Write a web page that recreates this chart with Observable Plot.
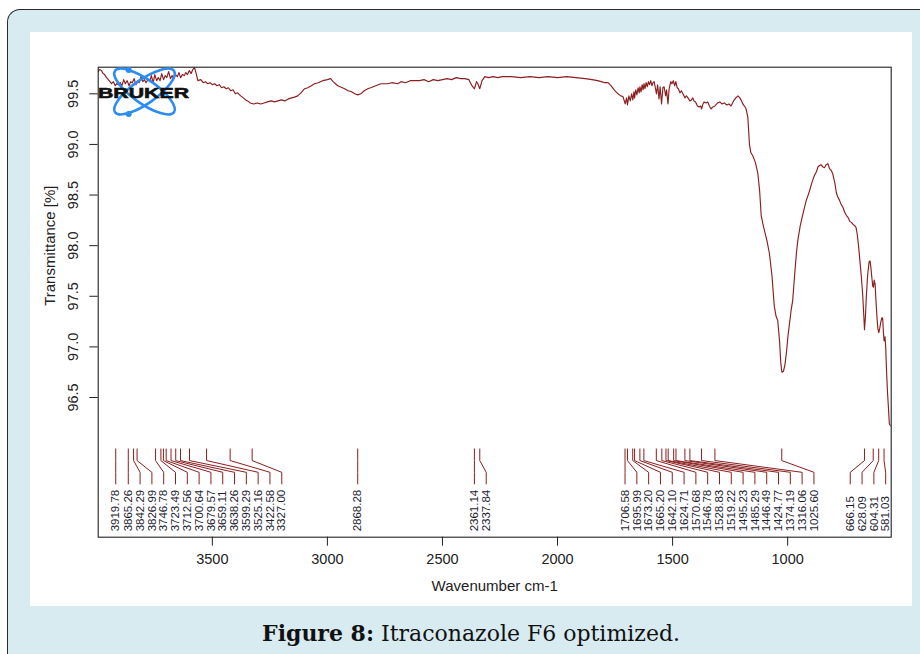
<!DOCTYPE html>
<html><head><meta charset="utf-8">
<script src="https://cdn.jsdelivr.net/npm/d3@7"></script>
<script src="https://cdn.jsdelivr.net/npm/@observablehq/plot@0.6"></script>
<style>
html,body{margin:0;padding:0;background:#fff;width:920px;height:654px;overflow:hidden;}
#panel{position:absolute;left:7px;top:9px;width:960px;height:700px;background:#d7ebf1;border-left:1.6px solid #2a2a2a;border-top:1.6px solid #2a2a2a;border-top-left-radius:13px;box-sizing:border-box;}
#chart{position:absolute;left:30px;top:32px;width:882px;height:574px;background:#fff;}
#caption{position:absolute;left:30px;width:882px;top:618px;text-align:center;font-family:"DejaVu Serif",serif;font-size:22px;color:#111;line-height:30px;}
</style></head>
<body>
<div id="panel"></div>
<div id="chart"></div>
<div id="caption"><b>Figure 8:</b> Itraconazole F6 optimized.</div>
<script>
// ---- data ----
const spectrum = [
[3996,99.72],[3990,99.74],[3982,99.73],[3975,99.70],[3968,99.69],[3960,99.66],[3952,99.64],[3945,99.62],
[3938,99.60],[3930,99.62],[3922,99.58],[3915,99.60],[3908,99.59],[3900,99.61],[3893,99.58],[3885,99.64],
[3878,99.60],[3870,99.63],[3862,99.58],[3855,99.62],[3848,99.61],[3840,99.65],[3832,99.59],[3825,99.62],
[3818,99.61],[3810,99.67],[3802,99.62],[3795,99.64],[3788,99.61],[3780,99.64],[3772,99.62],[3765,99.68],
[3757,99.61],[3750,99.69],[3742,99.63],[3735,99.66],[3727,99.63],[3720,99.70],[3712,99.64],[3705,99.68],
[3698,99.66],[3690,99.72],[3682,99.65],[3675,99.68],[3668,99.65],[3660,99.69],[3652,99.67],[3645,99.71],
[3638,99.66],[3630,99.69],[3622,99.68],[3615,99.71],[3608,99.69],[3600,99.73],[3592,99.70],[3585,99.74],
[3578,99.76],[3570,99.70],[3563,99.63],[3550,99.64],[3540,99.61],[3530,99.62],[3520,99.60],[3510,99.61],
[3500,99.59],[3490,99.60],[3480,99.58],[3470,99.59],[3460,99.56],[3450,99.57],[3440,99.55],[3430,99.56],
[3420,99.53],[3410,99.54],[3400,99.50],[3390,99.51],[3377,99.48],[3365,99.46],[3355,99.44],[3347,99.43],
[3335,99.41],[3320,99.40],[3305,99.41],[3290,99.40],[3275,99.41],[3260,99.42],[3245,99.43],[3230,99.42],
[3215,99.43],[3200,99.44],[3185,99.43],[3170,99.45],[3155,99.46],[3140,99.47],[3129,99.48],[3115,99.51],
[3100,99.55],[3085,99.56],[3070,99.58],[3056,99.60],[3040,99.61],[3020,99.63],[3000,99.64],[2986,99.65],
[2975,99.62],[2965,99.60],[2955,99.58],[2945,99.57],[2935,99.56],[2925,99.55],[2910,99.53],[2895,99.52],
[2881,99.50],[2868,99.49],[2855,99.50],[2840,99.53],[2825,99.55],[2812,99.56],[2790,99.58],[2768,99.60],
[2740,99.60],[2720,99.61],[2695,99.60],[2680,99.62],[2660,99.61],[2640,99.63],[2620,99.63],[2600,99.63],
[2580,99.64],[2560,99.62],[2540,99.64],[2520,99.63],[2500,99.64],[2480,99.65],[2460,99.64],[2440,99.66],
[2420,99.65],[2403,99.65],[2385,99.64],[2372,99.58],[2361,99.55],[2352,99.62],[2346,99.60],[2338,99.55],
[2328,99.63],[2316,99.67],[2300,99.66],[2280,99.67],[2260,99.66],[2240,99.67],[2200,99.67],[2160,99.66],
[2120,99.67],[2080,99.66],[2040,99.67],[2000,99.66],[1960,99.67],[1920,99.66],[1880,99.65],[1850,99.64],
[1826,99.63],[1810,99.62],[1795,99.61],[1780,99.61],[1768,99.58],[1750,99.53],[1737,99.50],[1725,99.48],
[1715,99.47],[1706,99.40],[1700,99.46],[1696,99.39],[1690,99.48],[1684,99.43],[1678,99.50],[1673,99.44],
[1668,99.52],[1665,99.46],[1660,99.54],[1655,99.49],[1650,99.56],[1645,99.51],[1642,99.57],[1637,99.52],
[1632,99.59],[1628,99.54],[1624,99.60],[1620,99.55],[1615,99.61],[1610,99.57],[1605,99.62],[1600,99.59],
[1595,99.63],[1590,99.58],[1585,99.61],[1580,99.62],[1575,99.56],[1570,99.50],[1565,99.59],[1559,99.45],
[1554,99.57],[1548,99.40],[1542,99.56],[1537,99.57],[1530,99.48],[1526,99.54],[1520,99.40],[1515,99.55],
[1508,99.62],[1503,99.60],[1497,99.63],[1491,99.58],[1486,99.62],[1480,99.56],[1475,99.55],[1468,99.51],
[1462,99.53],[1455,99.50],[1446,99.46],[1440,99.48],[1433,99.46],[1425,99.43],[1418,99.44],[1412,99.46],
[1407,99.43],[1400,99.42],[1392,99.38],[1385,99.37],[1378,99.38],[1374,99.35],[1368,99.40],[1363,99.42],
[1355,99.41],[1347,99.42],[1340,99.38],[1333,99.35],[1325,99.37],[1316,99.38],[1304,99.41],[1295,99.42],
[1285,99.40],[1275,99.41],[1265,99.39],[1255,99.40],[1246,99.38],[1235,99.43],[1225,99.46],[1216,99.48],
[1208,99.46],[1200,99.43],[1195,99.40],[1182,99.36],[1173,99.27],[1166,99.00],[1160,98.92],[1152,98.89],
[1140,98.82],[1130,98.72],[1122,98.55],[1115,98.30],[1108,98.22],[1101,98.15],[1090,98.05],[1079,97.92],
[1068,97.70],[1058,97.40],[1050,97.30],[1043,97.26],[1035,97.05],[1030,96.85],[1025,96.75],[1018,96.76],
[1012,96.82],[1005,96.95],[998,97.12],[992,97.23],[985,97.36],[978,97.46],[970,97.70],[962,97.92],
[956,98.05],[945,98.20],[934,98.31],[920,98.44],[905,98.54],[895,98.62],[884,98.69],[875,98.73],
[868,98.78],[862,98.79],[855,98.80],[848,98.78],[840,98.77],[833,98.80],[825,98.81],[818,98.76],
[810,98.74],[804,98.71],[795,98.62],[788,98.52],[782,98.48],[775,98.45],[768,98.41],[760,98.38],
[752,98.33],[745,98.30],[738,98.28],[730,98.24],[723,98.23],[716,98.21],[710,98.20],[703,98.18],
[698,98.12],[692,98.00],[686,97.85],[680,97.70],[674,97.52],[670,97.35],[666,97.17],[662,97.30],
[658,97.50],[652,97.72],[646,97.84],[642,97.85],[638,97.78],[634,97.68],[630,97.60],[627,97.59],
[624,97.66],[620,97.62],[616,97.45],[612,97.30],[608,97.18],[604,97.14],[600,97.18],[595,97.25],
[590,97.29],[587,97.28],[584,97.15],[581,97.06],[577,97.10],[574,97.00],[570,96.75],[566,96.55],
[562,96.40],[558,96.24],[552,96.22]
];
const peaks = [3919.78,3865.26,3842.29,3826.99,3746.78,3723.49,3712.56,3700.64,3679.57,3659.11,3638.26,
  3599.29,3525.16,3422.58,3327.00,2868.28,2361.14,2337.84,1706.58,1695.99,1673.20,1665.20,1642.10,1624.71,
  1570.68,1546.78,1528.83,1519.22,1495.23,1485.29,1446.49,1424.77,1374.19,1316.06,1025.60,666.15,628.09,
  604.31,581.03];
const xTicks = [3500,3000,2500,2000,1500,1000];
const yTicks = [96.5,97.0,97.5,98.0,98.5,99.0,99.5];
const xTitle = "Wavenumber cm-1";
const yTitle = "Transmittance [%]";

// ---- label layout (spread crowded peak labels) ----
const minGap = 51.3, rightLimit = 574;
const labelX = [];
peaks.forEach((p, i) => { labelX[i] = i === 0 ? p : Math.min(p, labelX[i - 1] - minGap); });
for (let i = peaks.length - 1; i >= 0; i--) {
  labelX[i] = i === peaks.length - 1 ? Math.max(labelX[i], rightLimit) : Math.max(labelX[i], labelX[i + 1] + minGap);
}
const yA = 95.992, yB = 95.877, yC = 95.761, yD = 95.646, yT = 95.178;
const leaders = peaks.flatMap((p, i) => [
  {peak: p, x: p, y: yA}, {peak: p, x: p, y: yB}, {peak: p, x: labelX[i], y: yC}, {peak: p, x: labelX[i], y: yD}
]);
const labels = peaks.map((p, i) => ({x: labelX[i], text: p.toFixed(2)}));

const red = "#8b1e1e", ink = "#222";
const svg = Plot.plot({
  width: 882, height: 574,
  marginLeft: 67.7, marginRight: 21.3, marginTop: 34.7, marginBottom: 69.3,
  style: {fontFamily: "'Liberation Sans', Arial, sans-serif", fontSize: "14.5px", color: ink, background: "#fff"},
  x: {domain: [3996, 550], label: null},
  y: {domain: [95.12, 99.763], label: null},
  marks: [
    Plot.line(spectrum, {x: d => d[0], y: d => d[1], stroke: red, strokeWidth: 1.15, clip: true}),
    Plot.line(leaders, {x: "x", y: "y", z: "peak", stroke: red, strokeWidth: 1}),
    Plot.text(labels, {x: "x", y: () => yT, text: "text", rotate: -90, textAnchor: "start", lineAnchor: "middle",
      fontSize: 11.5, fill: "#1c1c30"}),
    Plot.frame({stroke: ink, strokeWidth: 1.1}),
    Plot.axisX({ticks: xTicks, tickSize: 9, tickPadding: 8, tickFormat: d3.format("d"), stroke: ink}),
    Plot.axisY({ticks: yTicks, tickSize: 8.4, tickPadding: 12, tickRotate: -90, tickFormat: d3.format(".1f"), stroke: ink}),
    Plot.text([xTitle], {frameAnchor: "bottom", dy: 48.5, lineAnchor: "middle", textAnchor: "middle", fontSize: 15, fill: ink}),
    Plot.text([yTitle], {frameAnchor: "left", y: () => 98.0, dx: -47.7, rotate: -90, textAnchor: "middle", lineAnchor: "middle", fontSize: 15, fill: ink})
  ]
});
document.getElementById("chart").appendChild(svg);

// ---- BRUKER logo overlay ----
const logo = d3.select(svg).append("g").attr("transform", "translate(114.5,59.5)");
const blue = "#2b8cf2";
logo.append("ellipse").attr("rx", 36).attr("ry", 12).attr("transform", "rotate(35)")
  .attr("fill", "none").attr("stroke", blue).attr("stroke-width", 2.6);
logo.append("ellipse").attr("rx", 36).attr("ry", 12).attr("transform", "rotate(-35)")
  .attr("fill", "none").attr("stroke", blue).attr("stroke-width", 2.6);
logo.append("circle").attr("cx", -15.8).attr("cy", -21.5).attr("r", 3).attr("fill", blue);
logo.append("circle").attr("cx", -15.8).attr("cy", 22.5).attr("r", 3).attr("fill", blue);
d3.select(svg).append("text").attr("x", 68).attr("y", 65.7).attr("text-anchor", "start")
  .attr("textLength", 91).attr("lengthAdjust", "spacingAndGlyphs")
  .attr("font-family", "'Liberation Sans', Arial, sans-serif").attr("font-weight", "bold").attr("font-size", 15.3)
  .attr("fill", "#111").attr("stroke", "#111").attr("stroke-width", 0.6).text("BRUKER");
</script>
</body></html>
